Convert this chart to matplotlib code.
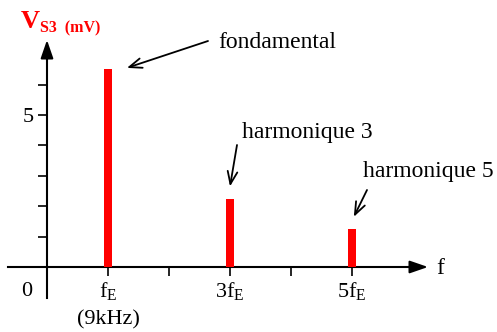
import matplotlib
matplotlib.use("Agg")
import matplotlib.pyplot as plt

# spectrum of V_S3
harmonics = [1, 3, 5]
amplitudes = [6.5, 2.25, 1.25]
names = ["fondamental", "harmonique 3", "harmonique 5"]
xtick_pos = [1, 2, 3, 4, 5]
xtick_labels = ["$\\mathrm{f}_\\mathrm{E}$\n(9kHz)", "", "$\\mathrm{3f}_\\mathrm{E}$", "", "$\\mathrm{5f}_\\mathrm{E}$"]
ytick_pos = [1, 2, 3, 4, 5, 6]
ytick_labels = ["", "", "", "", "5", ""]

plt.rcParams["font.family"] = "Liberation Serif"
plt.rcParams["mathtext.fontset"] = "custom"
plt.rcParams["mathtext.rm"] = "Liberation Serif"
plt.rcParams["mathtext.it"] = "Liberation Serif:italic"
plt.rcParams["mathtext.bf"] = "Liberation Serif:bold"

W, H = 497, 332
X0, Y0, SX, SY = 47, 267, 61, 30.4   # pixel origin and scale of the drawing


def px(x, y):
    # pixel position -> data coordinates
    return (x - X0) / SX, (Y0 - y) / SY


fig = plt.figure(figsize=(W / 100, H / 100), dpi=100)
ax = fig.add_axes([0, 0, 1, 1])
ax.set_xlim(-X0 / SX, (W - X0) / SX)
ax.set_ylim(-(H - Y0) / SY, Y0 / SY)

ax.bar(harmonics, amplitudes, width=0.125, color="#ff0000", zorder=3)

# axes through the origin
for s in ["top", "right"]:
    ax.spines[s].set_visible(False)
ax.spines["left"].set_position(("data", 0))
ax.spines["bottom"].set_position(("data", 0))
ax.spines["left"].set_bounds(px(0, 298)[1], px(0, 50)[1])
ax.spines["bottom"].set_bounds(px(8, 0)[0], px(420, 0)[0])
for s in ["left", "bottom"]:
    ax.spines[s].set_linewidth(1.5)

arrow_axis = dict(arrowstyle="-|>,head_length=1.1,head_width=0.38", color="black",
                  lw=1.5, shrinkA=0, shrinkB=0, mutation_scale=10)
ax.annotate("", xy=px(47, 40), xytext=px(47, 60), arrowprops=arrow_axis, annotation_clip=False)
ax.annotate("", xy=px(428, 267), xytext=px(408, 267), arrowprops=arrow_axis, annotation_clip=False)

ax.set_xticks(xtick_pos)
ax.set_xticklabels(xtick_labels, fontsize=16, linespacing=1.55)
ax.set_yticks(ytick_pos)
ax.set_yticklabels(ytick_labels, fontsize=16)
ax.tick_params(axis="both", direction="out", length=6.5, width=1.2, pad=3)

ax.text(*px(27, 292), "0", fontsize=16, ha="center", va="center")
ax.text(*px(436, 268), "f", fontsize=17, ha="left", va="center")

# y label
ax.text(*px(21, 28), "V", fontsize=19, fontweight="bold", color="#ff0000", va="baseline")
ax.text(*px(40, 32), "S3  (mV)", fontsize=11.5, fontweight="bold", color="#ff0000", va="baseline")

# annotations
tips = [(0.31, 0.05), (0.0, 0.4), (0.03, 0.4)]
tails = [px(208, 41), px(237, 145), px(367, 190)]
text_pos = [px(218, 48), px(242, 138), px(363, 177)]
arrow_note = dict(arrowstyle="->,head_length=0.9,head_width=0.35", color="black",
                  lw=1.3, shrinkA=0, shrinkB=0, mutation_scale=10)
for f, v, name, (dx, dy), tail, tp in zip(harmonics, amplitudes, names, tips, tails, text_pos):
    ax.annotate("", xy=(f + dx, v + dy), xytext=tail, arrowprops=arrow_note)
    ax.text(tp[0], tp[1], name, fontsize=17, va="baseline", ha="left")

fig.savefig("out.png", dpi=100)
